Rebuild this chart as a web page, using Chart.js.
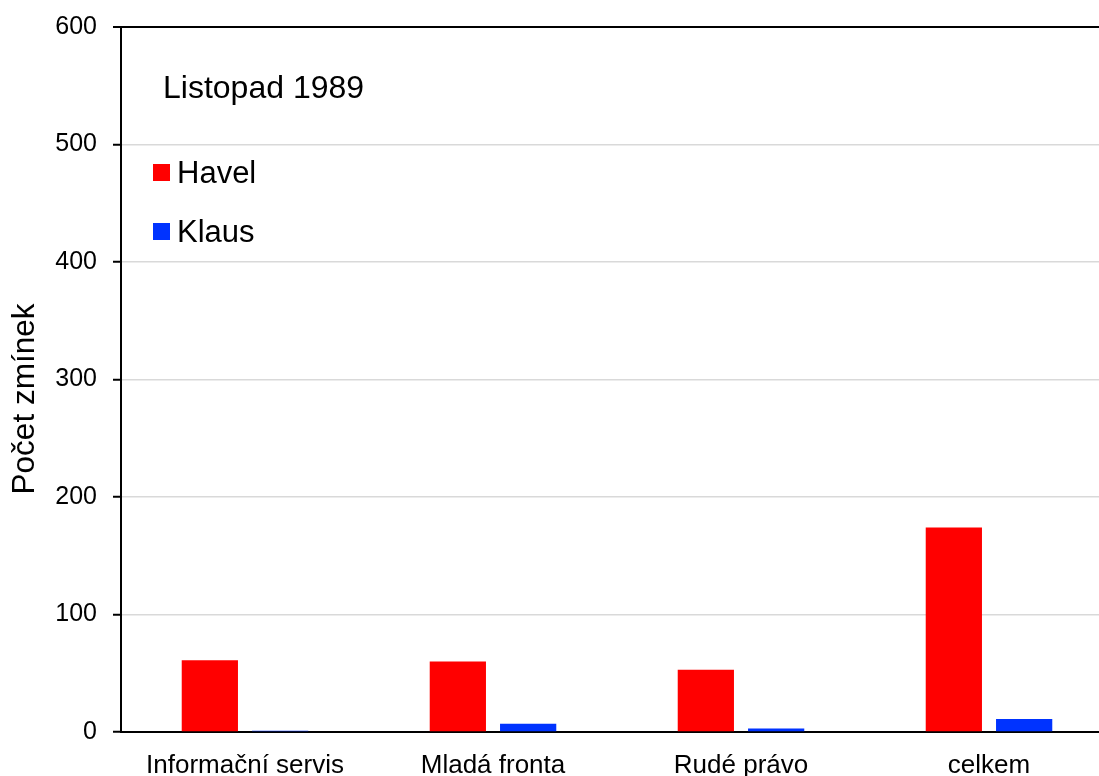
<!DOCTYPE html>
<html>
<head>
<meta charset="utf-8">
<script src="https://cdn.jsdelivr.net/npm/chart.js@4"></script>
<style>
  html, body { margin: 0; padding: 0; background: #fff; overflow: hidden; }
</style>
</head>
<body>
<canvas id="myChart" width="1113" height="776"></canvas>
<script>
// data
const categories = ["Informační servis", "Mladá fronta", "Rudé právo", "celkem"];
const havelValues = [61, 60, 53, 174];
const klausValues = [1, 7, 3, 11];
const seriesNames = ["Havel", "Klaus"];
const chartTitle = "Listopad 1989";
const yTitle = "Počet zmínek";
const yMax = 600;
const yStep = 100;

const FONT = "'Liberation Sans', Arial, sans-serif";

// legend + y title drawn inside the chart area like the original
const overlayPlugin = {
  id: "overlay",
  afterDraw(chart) {
    const ctx = chart.ctx;
    ctx.save();
    ctx.fillStyle = "#000";
    ctx.font = "32px " + FONT;
    ctx.textAlign = "left";
    ctx.textBaseline = "alphabetic";
    ctx.fillText(chartTitle, 163, 98);

    ctx.font = "31px " + FONT;
    chart.data.datasets.forEach((ds, i) => {
      const y = 164 + i * 59;
      ctx.fillStyle = ds.backgroundColor;
      ctx.fillRect(153, y, 17, 17);
      ctx.fillStyle = "#000";
      ctx.fillText(ds.label, 177, y + 19);
    });

    ctx.translate(25, 399);
    ctx.rotate(-Math.PI / 2);
    ctx.textAlign = "center";
    ctx.textBaseline = "middle";
    ctx.font = "31.5px " + FONT;
    ctx.fillText(yTitle, 0, 0);
    ctx.restore();
  }
};

const canvas = document.getElementById("myChart");
new Chart(canvas, {
  type: "bar",
  data: {
    labels: categories,
    datasets: [
      {
        label: seriesNames[0],
        data: havelValues,
        backgroundColor: "#ff0000",
        barPercentage: 0.8,
        categoryPercentage: 0.567,
      },
      {
        label: seriesNames[1],
        data: klausValues,
        backgroundColor: "#0033ff",
        barPercentage: 0.8,
        categoryPercentage: 0.567,
      },
    ],
  },
  options: {
    responsive: false,
    animation: false,
    layout: { padding: { left: 0, top: 27, right: 0, bottom: 0 } },
    plugins: {
      legend: { display: false },
      tooltip: { enabled: false },
    },
    scales: {
      x: {
        grid: { display: false },
        border: { color: "#000", width: 2 },
        ticks: { color: "#000", font: { family: FONT, size: 26 }, padding: 10, maxRotation: 0 },
        afterFit(scale) { scale.height = 44; },
      },
      y: {
        min: 0,
        max: yMax,
        ticks: { stepSize: yStep, color: "#000", font: { family: FONT, size: 25 }, padding: 16 },
        grid: {
          color: (c) => (c.tick && c.tick.value === yMax ? "#000" : "#d9d9d9"),
          lineWidth: (c) => (c.tick && c.tick.value === yMax ? 2 : 1.5),
          tickColor: "#000",
          tickLength: 8,
          tickWidth: 2,
        },
        border: { color: "#000", width: 2 },
        afterFit(scale) {
          scale.width = 121;
          scale.paddingTop = 0; // let layout padding decide the top edge
          scale.paddingBottom = 0;
        },
      },
    },
  },
  plugins: [overlayPlugin],
});
</script>
</body>
</html>
